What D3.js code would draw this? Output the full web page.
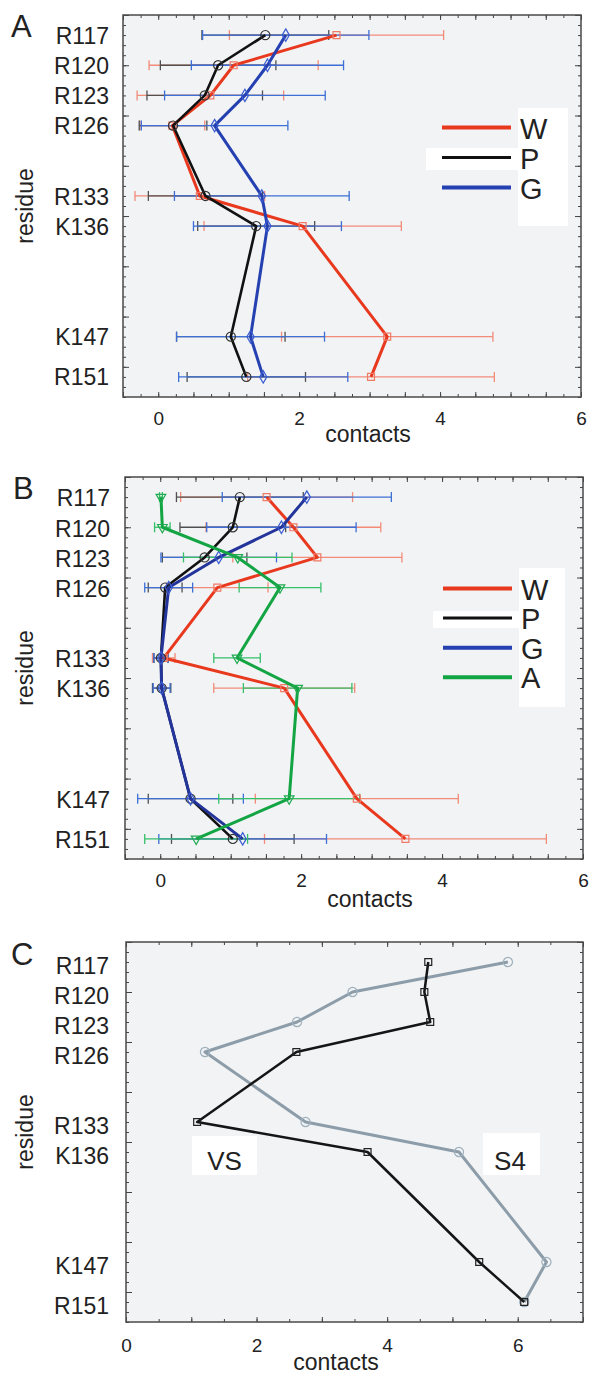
<!DOCTYPE html>
<html>
<head>
<meta charset="utf-8">
<script src="https://cdnjs.cloudflare.com/ajax/libs/d3/7.8.5/d3.min.js"></script>
<style>
  body { margin: 0; background: #fff; }
  text { font-family: "Liberation Sans", Arial, sans-serif; fill: #222; }
</style>
</head>
<body>
<div id="chart"></div>
<script>

// residues on the y axis
var residues = ["R117", "R120", "R123", "R126", "R133", "K136", "K147", "R151"];
var resNum = [117, 120, 123, 126, 133, 136, 147, 151];
var xLabels = [0, 2, 4, 6];

// panel A: mean contacts and errors
var aW = [2.53, 1.07, 0.74, 0.20, 0.59, 2.05, 3.25, 3.02];
var aWerr = [1.52, 1.20, 1.04, 0.46, 0.92, 1.40, 1.50, 1.75];
var aP = [1.52, 0.85, 0.66, 0.21, 0.67, 1.39, 1.03, 1.25];
var aPerr = [0.90, 0.82, 0.82, 0.48, 0.81, 0.83, 0.77, 0.84];
var aG = [1.81, 1.55, 1.23, 0.80, 1.47, 1.55, 1.31, 1.49];
var aGerr = [1.18, 1.08, 1.14, 1.04, 1.24, 1.05, 1.05, 1.20];

// panel B
var bW = [1.51, 1.89, 2.23, 0.81, 0.05, 1.76, 2.79, 3.48];
var bWerr = [1.22, 1.24, 1.20, 0.72, 0.16, 1.00, 1.44, 2.00];
var bP = [1.13, 1.03, 0.63, 0.07, 0.01, 0.02, 0.43, 1.03];
var bPerr = [0.90, 0.75, 0.60, 0.24, 0.10, 0.13, 0.60, 0.87];
var bG = [2.08, 1.72, 0.83, 0.12, 0.01, 0.02, 0.43, 1.17];
var bGerr = [1.20, 1.06, 0.82, 0.34, 0.10, 0.12, 0.75, 1.19];
var bA = [0.01, 0.03, 1.10, 1.70, 1.09, 1.95, 1.83, 0.51];
var bAerr = [0.02, 0.11, 0.77, 0.58, 0.33, 0.77, 1.00, 0.73];

// panel C
var cVS = [4.63, 4.57, 4.66, 2.61, 1.09, 3.70, 5.41, 6.10];
var cS4 = [5.85, 3.47, 2.62, 1.21, 2.75, 5.10, 6.44, 6.10];

var sty = {
    W: { line: "#e8391f", err: "#f28b78", mark: "#f07a66", sym: "square" },
    P: { line: "#111111", err: "#505050", mark: "#333333", sym: "circle" },
    G: { line: "#2540b0", err: "#3d6fd6", mark: "#3a5cd0", sym: "diamond" },
    A: { line: "#13a543", err: "#35c06a", mark: "#20aa50", sym: "triangle" }
};

var svg = d3.select("#chart").append("svg")
    .attr("width", 590)
    .attr("height", 1374);

function panel(o) {
    var x = d3.scaleLinear().domain(o.xd).range([o.l, o.r]);
    var y = d3.scaleLinear().domain([115, 153]).range([o.t, o.b]);
    var g = svg.append("g");

    g.append("rect")
        .attr("x", o.l).attr("y", o.t)
        .attr("width", o.r - o.l).attr("height", o.b - o.t)
        .attr("fill", "#f1f3f5");

    var xMinor = d3.range(o.xd[0], o.xd[1] + 1e-9, o.xMinor);
    var xMajor = d3.range(o.xd[0], o.xd[1] + 1e-9, o.xMajor);
    var yMinor = d3.range(115, 154, 1);
    var yMajor = d3.range(115, 154, 5);

    function ticks(axis, vals, size, tr) {
        g.append("g")
            .attr("transform", tr)
            .call(axis.tickValues(vals).tickSize(size).tickFormat(""))
            .call(s => s.select(".domain").remove())
            .selectAll("line").attr("stroke", "#444").attr("stroke-width", 1);
    }
    ticks(d3.axisBottom(x), xMinor, -3, "translate(0," + o.b + ")");
    ticks(d3.axisBottom(x), xMajor, -5, "translate(0," + o.b + ")");
    ticks(d3.axisTop(x), xMinor, -3, "translate(0," + o.t + ")");
    ticks(d3.axisTop(x), xMajor, -5, "translate(0," + o.t + ")");
    ticks(d3.axisLeft(y), yMinor, -3, "translate(" + o.l + ",0)");
    ticks(d3.axisLeft(y), yMajor, -6, "translate(" + o.l + ",0)");
    ticks(d3.axisRight(y), yMinor, -3, "translate(" + o.r + ",0)");
    ticks(d3.axisRight(y), yMajor, -6, "translate(" + o.r + ",0)");

    g.append("rect")
        .attr("x", o.l).attr("y", o.t)
        .attr("width", o.r - o.l).attr("height", o.b - o.t)
        .attr("fill", "none")
        .attr("stroke", "#4a4a4a")
        .attr("stroke-width", 1.5);

    // tick labels
    g.append("g")
        .attr("transform", "translate(0," + o.b + ")")
        .call(d3.axisBottom(x).tickValues(xLabels).tickSize(0).tickPadding(o.xPad).tickFormat(d3.format("d")))
        .call(s => s.select(".domain").remove())
        .selectAll("text").attr("font-size", 19).attr("fill", "#222");

    g.append("g")
        .attr("transform", "translate(" + o.l + ",0)")
        .call(d3.axisLeft(y).tickValues(resNum).tickSize(0).tickPadding(o.yPad)
            .tickFormat((d, i) => residues[i]))
        .call(s => s.select(".domain").remove())
        .selectAll("text").attr("font-size", 23).attr("fill", "#222").attr("dy", o.yDy);

    g.append("text")
        .attr("x", o.cx).attr("y", o.cy)
        .attr("text-anchor", "middle")
        .attr("font-size", 23)
        .text("contacts");

    g.append("text")
        .attr("transform", "translate(33," + ((o.t + o.b) / 2) + ") rotate(-90)")
        .attr("text-anchor", "middle")
        .attr("font-size", 23)
        .text("residue");

    g.append("text")
        .attr("x", o.lx).attr("y", o.ly)
        .attr("font-size", 31)
        .text(o.letter);

    return { g: g, x: x, y: y };
}

function errBars(p, vals, errs, col) {
    var gg = p.g.append("g").attr("stroke", col).attr("stroke-width", 1.3).attr("fill", "none");
    vals.forEach(function(v, i) {
        var yy = p.y(resNum[i]), x0 = p.x(v - errs[i]), x1 = p.x(v + errs[i]);
        gg.append("line").attr("x1", x0).attr("x2", x1).attr("y1", yy).attr("y2", yy);
        gg.append("line").attr("x1", x0).attr("x2", x0).attr("y1", yy - 5).attr("y2", yy + 5);
        gg.append("line").attr("x1", x1).attr("x2", x1).attr("y1", yy - 5).attr("y2", yy + 5);
    });
}

var symType = {
    square: [d3.symbolSquare, 48],
    circle: [d3.symbolCircle, 66],
    diamond: [d3.symbolDiamond, 45],
    triangle: [d3.symbolTriangle, 40]
};

function series(p, vals, s, lw) {
    p.g.append("path")
        .datum(vals)
        .attr("fill", "none")
        .attr("stroke", s.line)
        .attr("stroke-width", lw)
        .attr("stroke-linejoin", "round")
        .attr("d", d3.line().x(d => p.x(d)).y((d, i) => p.y(resNum[i])));
    var st = symType[s.sym];
    p.g.append("g").selectAll("path")
        .data(vals).join("path")
        .attr("transform", (d, i) => "translate(" + p.x(d) + "," + p.y(resNum[i]) + ")" + (s.sym == "triangle" ? " rotate(180)" : ""))
        .attr("d", d3.symbol().type(st[0]).size(st[1]))
        .attr("fill", "none")
        .attr("stroke", s.mark)
        .attr("stroke-width", 1.2);
}

function legend(p, box, strip, names, y0, step) {
    p.g.append("rect").attr("x", box[0]).attr("y", box[1]).attr("width", box[2]).attr("height", box[3]).attr("fill", "#fff");
    p.g.append("rect").attr("x", strip[0]).attr("y", strip[1]).attr("width", strip[2]).attr("height", strip[3]).attr("fill", "#fff");
    names.forEach(function(n, i) {
        var yy = y0 + i * step;
        p.g.append("line").attr("x1", box[0] - 76).attr("x2", box[0] - 7)
            .attr("y1", yy).attr("y2", yy)
            .attr("stroke", sty[n].line == "#111111" ? "#111" : sty[n].line)
            .attr("stroke-width", n == "P" ? 3 : 4);
        p.g.append("text").attr("x", box[0] + 2).attr("y", yy + 11)
            .attr("font-size", 29).attr("fill", "#111").text(n);
    });
}

// ---- A
var pA = panel({ l: 123, r: 581, t: 15, b: 397, xd: [-0.5, 6], xMinor: 0.25, xMajor: 0.5,
    xPad: 14.5, yPad: 14, yDy: "0.35em", cx: 368, cy: 442, lx: 11, ly: 37, letter: "A" });
errBars(pA, aW, aWerr, sty.W.err);
errBars(pA, aP, aPerr, sty.P.err);
errBars(pA, aG, aGerr, sty.G.err);
series(pA, aW, sty.W, 3);
series(pA, aP, sty.P, 2.6);
series(pA, aG, sty.G, 3);
legend(pA, [518, 108, 50, 118], [426, 148, 92, 22], ["W", "P", "G"], 127.5, 30);

// ---- B
var pB = panel({ l: 125, r: 583, t: 477, b: 859, xd: [-0.5, 6], xMinor: 0.25, xMajor: 0.5,
    xPad: 14.5, yPad: 15, yDy: "0.38em", cx: 370, cy: 907, lx: 13, ly: 499, letter: "B" });
errBars(pB, bW, bWerr, sty.W.err);
errBars(pB, bP, bPerr, sty.P.err);
errBars(pB, bG, bGerr, sty.G.err);
errBars(pB, bA, bAerr, sty.A.err);
series(pB, bW, sty.W, 3);
series(pB, bP, sty.P, 2.6);
series(pB, bG, { line: "#23349a", mark: "#3a5cd0", sym: "diamond" }, 3);
series(pB, bA, sty.A, 3);
legend(pB, [519, 568, 46, 139], [433, 611, 86, 17], ["W", "P", "G", "A"], 588.5, 29.6);

// ---- C
var pC = panel({ l: 126, r: 583, t: 942, b: 1322, xd: [0, 7], xMinor: 0.5, xMajor: 1,
    xPad: 16.5, yPad: 17, yDy: "0.5em", cx: 336, cy: 1370, lx: 11, ly: 965, letter: "C" });
series(pC, cS4, { line: "#8c9ca8", mark: "#9fb0bd", sym: "circle" }, 3);
series(pC, cVS, { line: "#151515", mark: "#222", sym: "square" }, 2.5);

pC.g.append("rect").attr("x", 192).attr("y", 1136).attr("width", 65).attr("height", 39).attr("fill", "#fff");
pC.g.append("text").attr("x", 224.5).attr("y", 1170).attr("text-anchor", "middle").attr("font-size", 26).text("VS");
pC.g.append("rect").attr("x", 483).attr("y", 1133).attr("width", 57).attr("height", 42).attr("fill", "#fff");
pC.g.append("text").attr("x", 510).attr("y", 1170).attr("text-anchor", "middle").attr("font-size", 26).text("S4");

</script>
</body>
</html>
